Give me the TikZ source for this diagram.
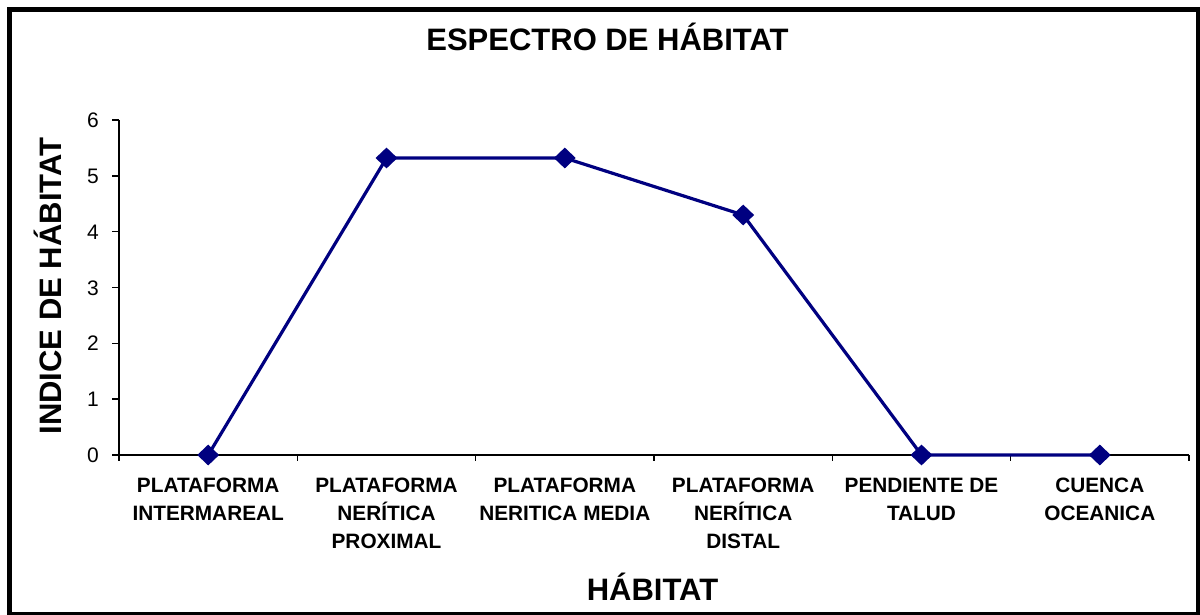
\documentclass[tikz,border=0pt]{standalone}
\usepackage{fontspec}
\setmainfont{Liberation Sans}
\usetikzlibrary{shapes.geometric}
\definecolor{navyline}{RGB}{0,0,128}
\tikzset{
  axisline/.style={line width=1.4pt, black},
  dataline/.style={line width=3.2pt, navyline, line join=round},
  dmark/.style={shape=diamond, fill=navyline, draw=none, minimum width=22pt, minimum height=21pt, inner sep=0pt},
  ticklab/.style={anchor=base east, inner sep=0pt, font=\fontsize{21}{21}\selectfont},
  catlab/.style={anchor=north, inner sep=0pt, align=center, font=\fontsize{20.8}{28}\selectfont\bfseries},
  bigtitle/.style={anchor=base, inner sep=0pt, font=\fontsize{31}{31}\selectfont\bfseries}
}
\begin{document}
\begin{tikzpicture}[x=1pt,y=-1pt]
\useasboundingbox (0,0) rectangle (1200,614);
\clip (0,0) rectangle (1200,614);
\fill[white] (0,0) rectangle (1200,614);
\draw[line width=5.5pt] (9.3,9.7) rectangle (1199,614.5);
% title
\node[bigtitle] (title) at (607.5,50) {ESPECTRO DE HÁBITAT};
% axes
\coordinate (o) at (119,455);
\coordinate (ytop) at (119,120);
\coordinate (xend) at (1189,455);
\draw[axisline] (ytop) -- (o) -- (xend);
\foreach \i in {0,...,6} {
  \draw[axisline] (112,455-55.83*\i) -- (119,455-55.83*\i);
  \node[ticklab] (t\i) at (99,455-55.83*\i+7.5) {\i};
}
\foreach \k in {0,...,6} {
  \draw[axisline] (119+178.33*\k,455) -- (119+178.33*\k,461);
}
% axis titles
\node[bigtitle] (xtitle) at (652.5,600) {HÁBITAT};
\node[bigtitle] [rotate=90] (ytitle) at (61,286) {INDICE DE HÁBITAT};
% category labels
\node[catlab] (c1) at (208.2,478) {PLATAFORMA\\INTERMAREAL};
\node[catlab] (c2) at (386.5,478) {PLATAFORMA\\NERÍTICA\\PROXIMAL};
\node[catlab] (c3) at (564.8,478) {PLATAFORMA\\NERITICA MEDIA};
\node[catlab] (c4) at (743.2,478) {PLATAFORMA\\NERÍTICA\\DISTAL};
\node[catlab] (c5) at (921.5,478) {PENDIENTE DE\\TALUD};
\node[catlab] (c6) at (1099.8,478) {CUENCA\\OCEANICA};
% data
\coordinate (d1) at (208.2,455);
\coordinate (d2) at (386.5,158);
\coordinate (d3) at (564.8,158);
\coordinate (d4) at (743.2,215);
\coordinate (d5) at (921.5,455);
\coordinate (d6) at (1099.8,455);
\draw[dataline] (d1) -- (d2) -- (d3) -- (d4) -- (d5) -- (d6);
\foreach \j in {1,...,6} { \node[dmark] (m\j) at (d\j) {}; }
\end{tikzpicture}
\end{document}
